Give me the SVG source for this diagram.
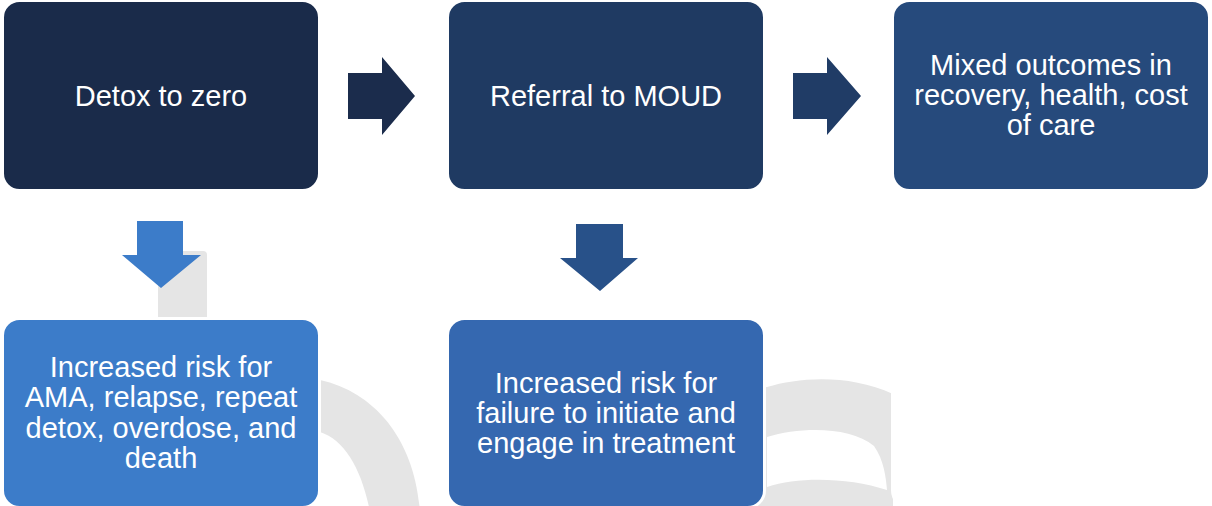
<svg xmlns="http://www.w3.org/2000/svg" width="1212" height="506" viewBox="0 0 1212 506">
  <style>
    .box { stroke: #ffffff; stroke-width: 3; }
    .label { font-family: "Liberation Sans", Arial, sans-serif; font-size: 29px; fill: #ffffff; text-anchor: middle; }
    .mark { fill: #e5e5e5; }
  </style>
  <rect width="1212" height="506" fill="#ffffff"/>

  <!-- faint background lettering -->
  <g id="backdrop">
    <path class="mark" d="M158 320 L158 251 L203 251 Q207 251 207 255 L207 320 Z"/>
    <path class="mark" d="M300 376 L320 380 C375 392 415 440 420 512 L370 512 C362 470 345 440 320 432 L300 428 Z"/>
    <path class="mark" d="M740 392 L767 387 C800 377 850 374 893 394 L893 512 L740 512 Z M767 437 C800 427 850 426 874 446 C884 460 886 478 887 490 C850 478 800 476 767 487 Z" fill-rule="evenodd"/>
  </g>

  <!-- connectors -->
  <g id="connectors">
    <path d="M348 73 H382 V57 L415 96 L382 135 V119 H348 Z" fill="#1b2c4c"/>
    <path d="M793 73 H827 V57 L861 96 L827 135 V119 H793 Z" fill="#203c66"/>
    <path d="M137 221 H183 V255 H201 L161 288 L122 255 H137 Z" fill="#3c7cc9"/>
    <path d="M576 224 H623 V258 H638 L600 291 L560 258 H576 Z" fill="#285189"/>
  </g>

  <g id="node-detox">
    <rect class="box" x="2.5" y="0.5" width="317" height="190" rx="17" fill="#1a2b4a"/>
    <text class="label" x="161" y="106">Detox to zero</text>
  </g>

  <g id="node-referral">
    <rect class="box" x="447.5" y="0.5" width="317" height="190" rx="17" fill="#1f3a62"/>
    <text class="label" x="606" y="106">Referral to MOUD</text>
  </g>

  <g id="node-outcomes">
    <rect class="box" x="892.5" y="0.5" width="317" height="190" rx="17" fill="#264a7c"/>
    <text class="label" x="1051" y="75">Mixed outcomes in</text>
    <text class="label" x="1051" y="105">recovery, health, cost</text>
    <text class="label" x="1051" y="135">of care</text>
  </g>

  <g id="node-risk-detox">
    <rect class="box" x="2.5" y="318.5" width="317" height="189" rx="17" fill="#3c7cc9"/>
    <text class="label" x="161" y="377">Increased risk for</text>
    <text class="label" x="161" y="407">AMA, relapse, repeat</text>
    <text class="label" x="161" y="437.5">detox, overdose, and</text>
    <text class="label" x="161" y="468">death</text>
  </g>

  <g id="node-risk-referral">
    <rect class="box" x="447.5" y="318.5" width="317" height="189" rx="17" fill="#3568b0"/>
    <text class="label" x="606" y="393">Increased risk for</text>
    <text class="label" x="606" y="423">failure to initiate and</text>
    <text class="label" x="606" y="453">engage in treatment</text>
  </g>

  <g id="node-blank">
    <rect class="box" x="892.5" y="318.5" width="317" height="189" rx="17" fill="#ffffff"/>
  </g>
</svg>
